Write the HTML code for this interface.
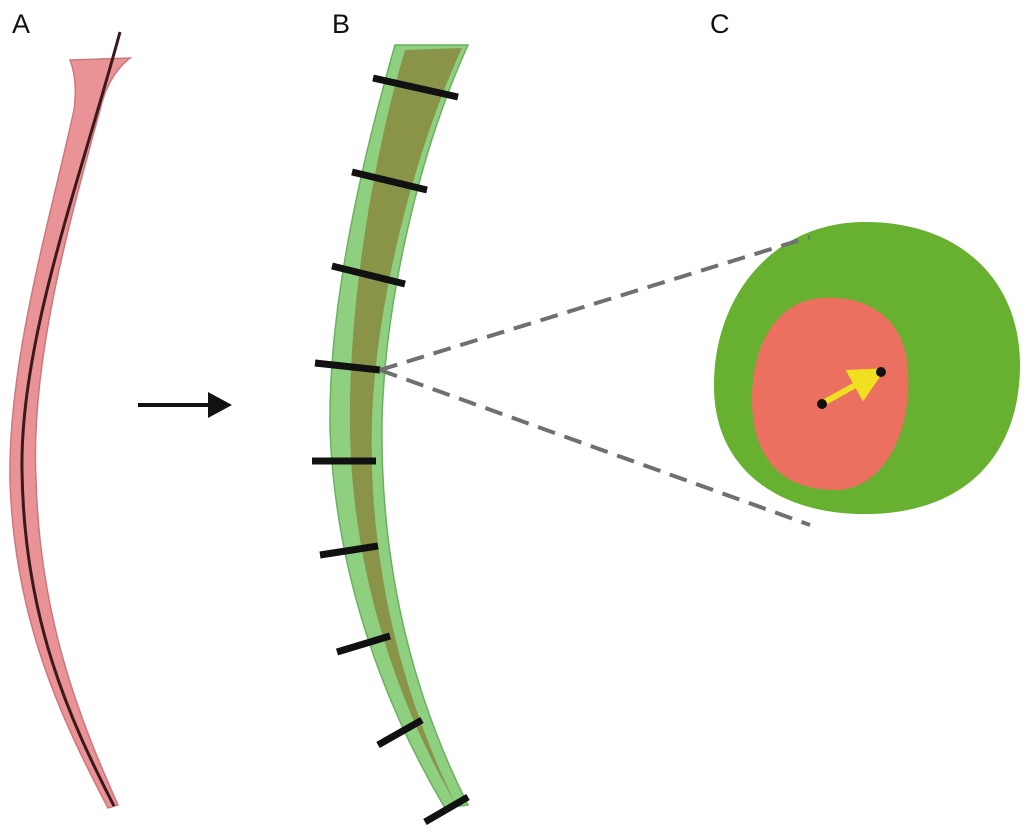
<!DOCTYPE html>
<html><head><meta charset="utf-8"><style>
html,body{margin:0;padding:0;background:#fff;}
svg{display:block}
</style></head><body>
<svg width="1024" height="832" viewBox="0 0 1024 832" xmlns="http://www.w3.org/2000/svg">
<defs>
<marker id="ah" markerWidth="6" markerHeight="6" refX="3" refY="3" orient="auto"><path d="M0,0 L6,3 L0,6 z" fill="#f0e020"/></marker>
</defs>
<g font-family="Liberation Sans, sans-serif" font-size="27" fill="#111">
<text x="12" y="33">A</text>
<text x="332" y="33">B</text>
<text x="710" y="33">C</text>
</g>
<!-- Panel A -->
<path d="M70,60 L130,58 Q108,75 100,110 C70,220 30,360 36,480 C40,620 80,720 118,805 L108,808 C62,720 14,620 10,480 C8,360 50,220 74,110 Q78,80 70,60 Z" fill="#e8888c" stroke="#c86870" stroke-width="1.5" opacity="0.9"/>
<path d="M120,32 C80,180 20,340 22,470 C24,620 70,720 114,806" fill="none" stroke="#3a1a1a" stroke-width="3"/>
<!-- arrow -->
<line x1="138" y1="405" x2="215" y2="405" stroke="#111" stroke-width="4"/>
<path d="M208,392 L232,405 L208,418 Z" fill="#111"/>
<!-- Panel B -->
<path d="M395,45 L468,45 C420,150 385,300 382,420 C380,560 410,690 468,805 L445,808 C375,690 335,560 330,430 C328,300 365,150 395,45 Z" fill="#8fd080" stroke="#6ab060" stroke-width="1.5"/>
<path d="M405,50 L462,48 C415,150 376,300 372,420 C368,560 400,690 455,803 C390,690 352,560 350,430 C348,300 375,150 405,50 Z" fill="#8a8a40" opacity="0.85"/>
<g stroke="#111" stroke-width="7" stroke-linecap="butt">
<line x1="373" y1="78" x2="458" y2="97"/>
<line x1="352" y1="172" x2="427" y2="190"/>
<line x1="332" y1="266" x2="405" y2="284"/>
<line x1="315" y1="363" x2="380" y2="370"/>
<line x1="312" y1="461" x2="376" y2="461"/>
<line x1="320" y1="555" x2="378" y2="546"/>
<line x1="337" y1="652" x2="390" y2="636"/>
<line x1="378" y1="745" x2="422" y2="720"/>
<line x1="425" y1="822" x2="468" y2="797"/>
</g>
<!-- Panel C -->
<path d="M865,222 C960,222 1020,280 1020,365 C1020,450 970,512 870,514 C780,516 716,470 714,390 C712,300 770,222 865,222 Z" fill="#68b030"/>
<path d="M822,298 C870,295 905,320 908,370 C912,430 885,490 835,490 C775,490 752,450 752,400 C752,340 780,300 822,298 Z" fill="#ec7060"/>
<!-- dashed -->
<g stroke="#707070" stroke-width="4" stroke-dasharray="18,10">
<line x1="380" y1="370" x2="810" y2="237"/>
<line x1="380" y1="370" x2="810" y2="525"/>
</g>
<line x1="823" y1="403" x2="870" y2="377" stroke="#f0e020" stroke-width="6" marker-end="url(#ah)"/>
<circle cx="822" cy="404" r="5" fill="#111"/>
<circle cx="881" cy="372" r="5" fill="#111"/>
</svg>
</body></html>
